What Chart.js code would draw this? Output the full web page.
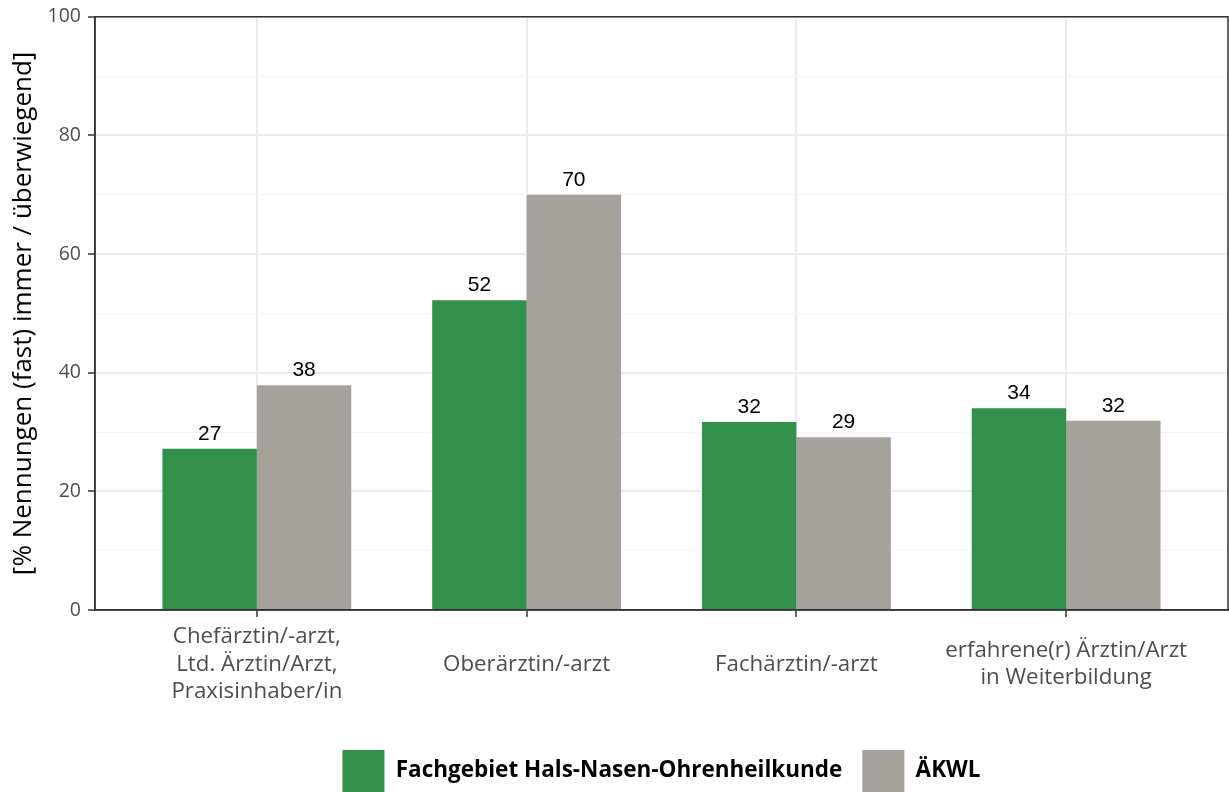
<!DOCTYPE html>
<html lang="de">
<head>
<meta charset="UTF-8">
<title>Nennungen nach Position</title>
<script src="https://cdn.jsdelivr.net/npm/chart.js"></script>
<style>
  body { margin: 0; background: #ffffff; }
  #wrap { width: 1229px; height: 792px; }
</style>
</head>
<body>
<div id="wrap"><canvas id="chart" width="1229" height="792"></canvas></div>
<script>
// chart data
const categories = [
  ['Chefärztin/-arzt,', 'Ltd. Ärztin/Arzt,', 'Praxisinhaber/in'],
  'Oberärztin/-arzt',
  'Fachärztin/-arzt',
  ['erfahrene(r) Ärztin/Arzt', 'in Weiterbildung']
];
const seriesNames = ['Fachgebiet Hals-Nasen-Ohrenheilkunde', 'ÄKWL'];
const hnoValues = [27.2, 52.2, 31.7, 34.0];
const aekwlValues = [37.9, 70.0, 29.1, 31.9];
const yTicks = [0, 20, 40, 60, 80, 100];
const seriesColors = ['#31914a', '#a5a29b'];

const fontFamily = '"Open Sans", "Noto Sans", sans-serif';

function toPoints(values) {
  return values.map((v, i) => ({ x: i + 1, y: v }));
}

// numbers above the bars
const barLabels = {
  id: 'barLabels',
  afterDatasetsDraw(chart) {
    const ctx = chart.ctx;
    ctx.save();
    ctx.font = '21px "Liberation Sans", Arial, sans-serif';
    ctx.fillStyle = '#000000';
    ctx.textAlign = 'center';
    ctx.textBaseline = 'alphabetic';
    chart.data.datasets.forEach((ds, di) => {
      chart.getDatasetMeta(di).data.forEach((bar, i) => {
        ctx.fillText(Math.round(ds.data[i].y), bar.x, bar.y - 9);
      });
    });
    ctx.restore();
  }
};

// frame round the plot panel
const panelBorder = {
  id: 'panelBorder',
  afterDraw(chart) {
    const { ctx, chartArea: a } = chart;
    ctx.save();
    ctx.strokeStyle = '#333333';
    ctx.lineWidth = 1.5;
    ctx.strokeRect(a.left, a.top, a.right - a.left, a.bottom - a.top);
    ctx.restore();
  }
};

new Chart(document.getElementById('chart').getContext('2d'), {
  type: 'bar',
  data: {
    datasets: [
      { label: seriesNames[0], data: toPoints(hnoValues), backgroundColor: seriesColors[0], borderWidth: 0 },
      { label: seriesNames[1], data: toPoints(aekwlValues), backgroundColor: seriesColors[1], borderWidth: 0 }
    ]
  },
  options: {
    responsive: false,
    animation: false,
    categoryPercentage: 0.7,
    barPercentage: 1.0,
    layout: { padding: { top: 16, left: 0, right: 1, bottom: -10 } },
    plugins: {
      tooltip: { enabled: false },
      legend: {
        position: 'bottom',
        fullSize: false,
        labels: {
          boxWidth: 42,
          boxHeight: 42,
          padding: 20,
          color: '#000000',
          font: { family: fontFamily, size: 22.5, weight: 'bold' }
        }
      }
    },
    scales: {
      x: {
        type: 'linear',
        min: 0.4,
        max: 4.6,
        offset: false,
        afterBuildTicks: (scale) => { scale.ticks = categories.map((c, i) => ({ value: i + 1 })); },
        afterFit: (scale) => { scale.height = 120; },
        grid: { offset: false, color: '#ebebeb', lineWidth: 2, tickColor: '#333333', tickLength: 7, tickWidth: 1.5 },
        border: { display: true, color: '#333333', width: 1.5 },
        ticks: {
          autoSkip: false,
          maxRotation: 0,
          padding: 20,
          crossAlign: 'center',
          color: '#4d4d4d',
          font: { family: fontFamily, size: 22.3, lineHeight: 1.23 },
          callback: (value) => categories[value - 1]
        }
      },
      y: {
        min: 0,
        max: 100,
        afterBuildTicks: (scale) => {
          const t = [];
          for (let v = 0; v <= 100; v += 10) t.push({ value: v });
          scale.ticks = t;
        },
        afterFit: (scale) => { scale.width = 95; },
        grid: {
          color: (c) => yTicks.includes(c.tick.value) ? '#ebebeb' : '#f4f4f4',
          lineWidth: (c) => yTicks.includes(c.tick.value) ? 2 : 1,
          tickColor: (c) => yTicks.includes(c.tick.value) ? '#333333' : 'rgba(0,0,0,0)',
          tickLength: 7,
          tickWidth: 1.5
        },
        border: { display: true, color: '#333333', width: 1.5 },
        title: {
          display: true,
          text: '[% Nennungen (fast) immer / überwiegend]',
          color: '#000000',
          font: { family: fontFamily, size: 26 },
          padding: { top: 8, bottom: 0 }
        },
        ticks: {
          padding: 7,
          color: '#4d4d4d',
          font: { family: fontFamily, size: 19.5, lineHeight: 1.0 },
          callback: (value) => yTicks.includes(value) ? String(value) : ''
        }
      }
    }
  },
  plugins: [barLabels, panelBorder]
});
</script>
</body>
</html>
